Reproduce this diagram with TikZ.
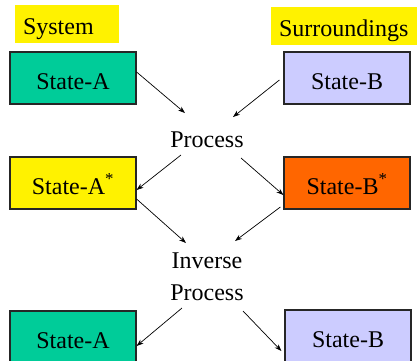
\documentclass[tikz,border=0pt]{standalone}
\usepackage{fontspec}
\setmainfont{Liberation Serif}
\usetikzlibrary{arrows.meta}
\definecolor{teal}{HTML}{00CC99}
\definecolor{lav}{HTML}{CCCCFF}
\definecolor{orng}{HTML}{FF6600}
\begin{document}
\begin{tikzpicture}[x=1pt, y=-1pt, font=\fontsize{24}{32}\selectfont,
  box/.style = {draw=black!85, line width=1.2pt, minimum width=126pt, minimum height=52pt, text height=22pt, text depth=0pt, inner sep=0pt},
  tag/.style = {fill=yellow, minimum height=38pt, text height=20pt, text depth=0pt, inner xsep=8pt, inner ysep=0pt, align=left},
  arr/.style = {-{Stealth[length=7pt, width=5pt]}, line width=0.7pt}]
\useasboundingbox (0,0) rectangle (417,360);

\node[tag, text width=88pt] (sys) at (67,24) {System};
\node[tag, text width=130pt] (sur) at (344,26) {Surroundings};

\node[box, fill=teal] (stateA) at (73,78) {State-A};
\node[box, fill=lav] (stateB) at (347,78) {State-B};
\node[box, fill=yellow] (stateAs) at (73,183) {State-A\textsuperscript{*}};
\node[box, fill=orng] (stateBs) at (347,183) {State-B\textsuperscript{*}};
\node[box, fill=teal] (stateAi) at (73,337) {State-A};
\node[box, fill=lav] (stateBi) at (348,336) {State-B};

\node[anchor=base] (proc) at (207,147) {Process};
\node[anchor=base, align=center] (invproc) at (207,300) {Inverse\\Process};

\coordinate (p1) at (185,113);
\coordinate (p2) at (233,117);
\coordinate (p3) at (181,155);
\coordinate (p4) at (241,158);
\coordinate (q1) at (186,243);
\coordinate (q2) at (235,241);
\coordinate (q3) at (182,308);
\coordinate (q4) at (243,311);

\draw[arr] ([yshift=6pt]stateA.east) -- (p1);
\draw[arr] ([xshift=-4pt,yshift=-2pt]stateB.west) -- (p2);
\draw[arr] (p3) -- ([yshift=-7pt]stateAs.east);
\draw[arr] (p4) -- ([yshift=-12pt]stateBs.west);
\draw[arr] ([yshift=-16pt]stateAs.east) -- (q1);
\draw[arr] ([xshift=-3pt,yshift=-24pt]stateBs.west) -- (q2);
\draw[arr] (q3) -- ([yshift=-9pt]stateAi.east);
\draw[arr] (q4) -- ([xshift=-3pt,yshift=-15pt]stateBi.west);

\end{tikzpicture}
\end{document}
